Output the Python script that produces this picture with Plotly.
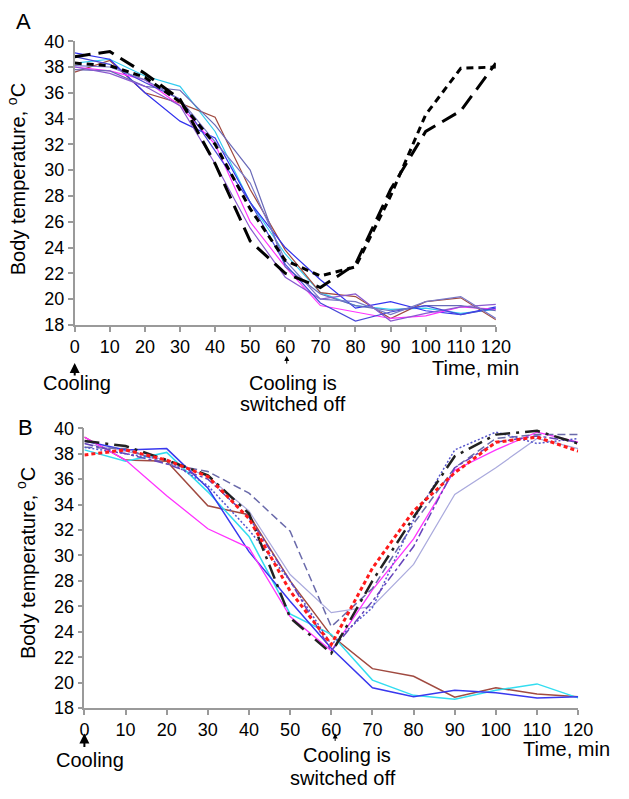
import plotly.graph_objects as go

W, H = 629, 799
time = [0, 10, 20, 30, 40, 50, 60, 70, 80, 90, 100, 110, 120]

# ---- Panel A data ----
a_black_short = [38.3, 38.1, 37.2, 35.3, 32.0, 27.0, 23.0, 21.8, 22.5, 28.0, 34.3, 37.9, 38.0]
a_black_long = [38.8, 39.2, 37.5, 35.5, 30.5, 24.5, 22.0, 20.9, 22.7, 28.5, 33.0, 34.6, 38.3]
a_cyan = [38.3, 38.6, 37.3, 36.5, 33.0, 27.5, 23.5, 20.5, 19.5, 19.2, 19.3, 18.9, 19.2]
a_brown = [37.6, 38.5, 36.0, 35.2, 34.1, 28.5, 23.8, 20.5, 20.2, 18.5, 19.8, 20.1, 18.4]
a_blue = [39.1, 38.6, 36.0, 33.8, 32.5, 27.5, 24.0, 21.5, 19.3, 19.8, 19.1, 18.8, 19.4]
a_magenta = [38.0, 37.7, 37.0, 35.0, 32.0, 26.0, 22.5, 19.5, 19.0, 18.5, 18.7, 19.4, 19.2]
a_slate = [37.8, 37.7, 36.5, 36.2, 33.5, 30.0, 22.5, 20.4, 19.5, 19.1, 19.5, 19.5, 19.1]
a_purple = [38.0, 37.5, 36.5, 35.0, 30.5, 25.5, 21.7, 20.0, 20.4, 18.3, 18.9, 19.4, 19.6]
a_darkblue = [38.8, 38.2, 36.8, 35.5, 31.5, 27.5, 22.7, 19.7, 18.3, 19.0, 19.5, 18.8, 19.3]
a_violet = [38.1, 38.0, 37.0, 35.5, 32.2, 29.0, 23.0, 20.0, 19.8, 18.8, 19.8, 20.2, 18.5]

# ---- Panel B data ----
b_black_dashdot = [39.0, 38.6, 37.5, 36.3, 33.3, 25.1, 22.3, 28.0, 33.0, 37.8, 39.5, 39.8, 38.8]
b_red_dot = [37.9, 38.3, 37.5, 36.2, 32.9, 27.2, 23.0, 29.0, 33.5, 36.5, 38.9, 39.3, 38.2]
b_slate_dash = [38.5, 38.4, 37.2, 36.6, 34.9, 31.9, 24.4, 27.4, 32.5, 36.9, 39.2, 39.5, 39.5]
b_lavender = [38.8, 38.2, 37.5, 36.2, 33.5, 28.5, 25.5, 26.0, 29.3, 34.8, 36.9, 39.2, 38.4]
b_dotted_blue = [38.5, 38.0, 37.5, 35.5, 32.0, 28.0, 23.0, 25.9, 32.8, 38.3, 39.7, 38.8, 39.2]
b_magenta = [39.3, 37.5, 34.7, 32.1, 30.6, 25.2, 22.5, 27.3, 31.3, 36.7, 38.3, 39.7, 38.9]
b_purple_dashdot = [38.8, 38.0, 37.2, 36.0, 33.0, 28.0, 22.5, 26.4, 30.7, 36.9, 38.9, 39.4, 38.9]
b_blue = [39.0, 38.3, 38.4, 35.3, 30.3, 26.4, 22.7, 19.6, 18.9, 19.4, 19.2, 18.8, 18.9]
b_cyan = [38.3, 37.4, 38.1, 35.0, 31.5, 25.4, 23.8, 20.2, 19.0, 18.7, 19.4, 19.9, 18.8]
b_brown = [39.3, 37.5, 37.4, 33.9, 33.2, 28.0, 23.7, 21.1, 20.5, 18.85, 19.6, 19.1, 18.9]

x_ticks = list(range(0, 121, 10))
y_ticks = list(range(18, 41, 2))
y_title = "Body temperature, <sup>o</sup>C"
x_title = "Time, min"

fig = go.Figure()

def add(xa, ya, y, color, width, dash="solid"):
    fig.add_trace(go.Scatter(x=time, y=y, mode="lines", xaxis=xa, yaxis=ya,
                             line=dict(color=color, width=width, dash=dash),
                             showlegend=False, hoverinfo="skip"))

# Panel A
for y, c in [(a_cyan, "#33ccf0"), (a_brown, "#a04a40"), (a_blue, "#3333ee"),
             (a_magenta, "#ff33ff"), (a_slate, "#6a6ab8"), (a_purple, "#8a5ad0"),
             (a_darkblue, "#4848d8"), (a_violet, "#7878c8")]:
    add("x", "y", y, c, 1.2)
add("x", "y", a_black_short, "black", 3, "7px,5px")
add("x", "y", a_black_long, "black", 3, "16px,8px")

# Panel B
add("x2", "y2", b_lavender, "#aaaadd", 1.2)
add("x2", "y2", b_brown, "#a04a40", 1.5)
add("x2", "y2", b_cyan, "#33ddf0", 1.5)
add("x2", "y2", b_blue, "#3838ee", 1.5)
add("x2", "y2", b_magenta, "#ff33ff", 1.3)
add("x2", "y2", b_slate_dash, "#6a6aaa", 1.5, "8px,4px")
add("x2", "y2", b_dotted_blue, "#5555cc", 1.5, "2px,2px")
add("x2", "y2", b_purple_dashdot, "#6644bb", 1.5, "dashdot")
add("x2", "y2", b_black_dashdot, "#222222", 2.5, "longdashdot")
add("x2", "y2", b_red_dot, "#ff1a1a", 3, "4px,3px")

def px(v):
    return v / W

def py(v):
    return 1 - v / H

tickfont = dict(family="Liberation Sans, Arial", size=18, color="black")
axis_common = dict(showgrid=False, zeroline=False, showline=True, linecolor="#9a9a9a",
                   linewidth=1.5, ticks="outside", tickcolor="#9a9a9a", ticklen=5,
                   tickwidth=1.5, tickfont=tickfont)

fig.update_layout(
    width=W, height=H, margin=dict(l=0, r=0, t=0, b=0),
    plot_bgcolor="white", paper_bgcolor="white",
    xaxis=dict(domain=[px(72), px(507)], range=[0, 120], tickvals=x_ticks,
               anchor="y", **axis_common),
    yaxis=dict(domain=[py(323), py(32)], range=[18, 40], tickvals=y_ticks,
               anchor="x", **axis_common),
    xaxis2=dict(domain=[px(82), px(592)], range=[0, 120], tickvals=x_ticks,
                anchor="y2", **axis_common),
    yaxis2=dict(domain=[py(716), py(429)], range=[18, 40], tickvals=y_ticks,
                anchor="x2", **axis_common),
)

font = dict(family="Liberation Sans, Arial", size=20, color="black")
anns = []
def text(t, x, y, size=20, angle=0):
    anns.append(dict(text=t, x=px(x), y=py(y), xref="paper", yref="paper",
                     showarrow=False, xanchor="center", yanchor="middle",
                     textangle=angle, font=dict(font, size=size)))

def arrow(x, yhead, ytail, w, s):
    anns.append(dict(text="", x=px(x), y=py(yhead), xref="paper", yref="paper",
                     ax=0, ay=ytail - yhead, showarrow=True, arrowhead=2,
                     arrowwidth=w, arrowsize=s, arrowcolor="black"))

text("A", 19, 12, 22)
text("B", 21, 428, 22)
text(y_title, 12, 174, 20, -90)
text(y_title, 22, 567, 20, -90)
text(x_title, 486, 367)
text(x_title, 580, 758)
text("Cooling", 74, 383)
text("Cooling is", 297, 383)
text("switched off", 297, 404)
text("Cooling", 88, 769)
text("Cooling is", 353, 764)
text("switched off", 349, 788)
arrow(72, 362, 376, 2, 1)
arrow(82, 742, 757, 2, 1)
arrow(291, 355, 364, 1, 1)
arrow(341, 742, 751, 1, 1)
fig.update_layout(annotations=anns)

fig.write_html("out.html", config={"displayModeBar": False},
               post_script="document.body.style.margin='0px';"
                           "document.body.style.overflow='hidden';")
